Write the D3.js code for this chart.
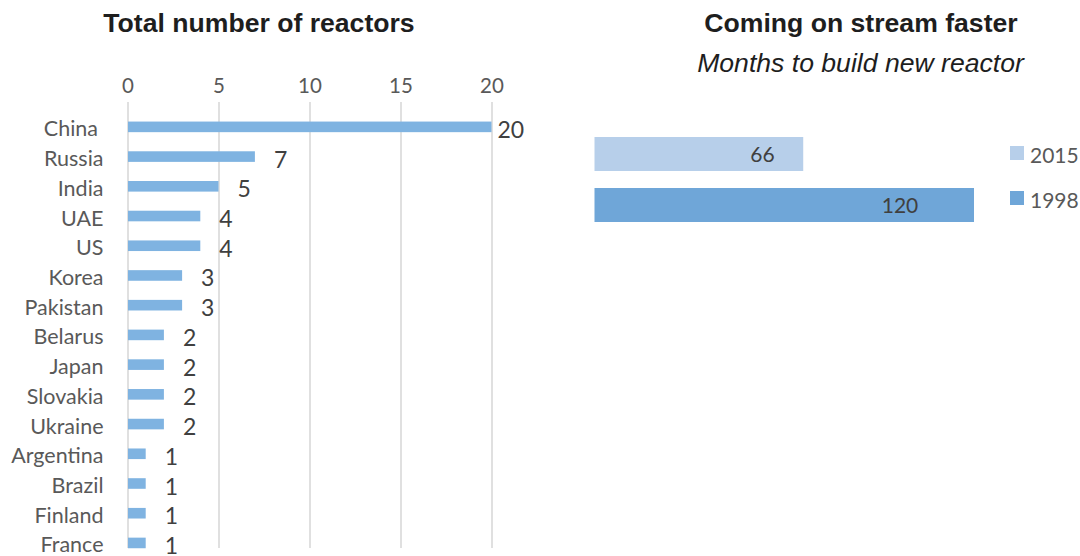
<!DOCTYPE html>
<html>
<head>
<meta charset="utf-8">
<script src="https://cdn.jsdelivr.net/npm/d3@7"></script>
<style>
  html, body { margin: 0; padding: 0; background: #ffffff; }
  svg { display: block; }
</style>
</head>
<body>
<svg id="chart" width="1080" height="556"></svg>
<script>
// Reactors under construction, by country
const countries = ["China", "Russia", "India", "UAE", "US", "Korea", "Pakistan", "Belarus",
                   "Japan", "Slovakia", "Ukraine", "Argentina", "Brazil", "Finland", "France"];
const reactorCounts = [20, 7, 5, 4, 4, 3, 3, 2, 2, 2, 2, 1, 1, 1, 1];
const reactorTicks = [0, 5, 10, 15, 20];

// Average build time, months
const buildYears = ["2015", "1998"];
const buildMonths = [66, 120];

const svg = d3.select("#chart");
const labelFont = "Lato, 'Open Sans', sans-serif";
const titleFont = "'Liberation Sans', Arial, sans-serif";

// ---------- Left panel: total number of reactors ----------
const left = svg.append("g");

left.append("text")
  .attr("x", 259).attr("y", 32)
  .attr("text-anchor", "middle")
  .attr("font-family", titleFont).attr("font-weight", "bold")
  .attr("font-size", 26.6).attr("fill", "#1e1e1e")
  .text("Total number of reactors");

const x = d3.scaleLinear().domain([0, 20]).range([127.5, 491.5]);
const y = d3.scaleBand().domain(countries).range([112, 112 + 15 * 29.72]).paddingInner(0.64).paddingOuter(0.32);

const gridTop = 102, gridBottom = 548;
const xAxis = d3.axisTop(x).tickValues(reactorTicks).tickFormat(d3.format("d"))
  .tickSizeInner(-(gridBottom - gridTop)).tickSizeOuter(0).tickPadding(9);

const ax = left.append("g").attr("transform", `translate(0,${gridTop})`).call(xAxis);
ax.select(".domain").remove();
ax.selectAll(".tick line").attr("stroke", "#d9d9d9").attr("stroke-width", 1.6);
ax.selectAll(".tick text")
  .attr("font-family", labelFont).attr("font-size", 20.5).attr("fill", "#595959");

const rows = countries.map((c, i) => ({ country: c, value: reactorCounts[i] }));

left.append("g").selectAll("rect").data(rows).join("rect")
  .attr("x", x(0) + 0.5)
  .attr("y", d => y(d.country) + y.bandwidth() / 2 - 5.3)
  .attr("width", d => x(d.value) - x(0) - 0.5)
  .attr("height", 10.6)
  .attr("fill", "#7fb3e1");

// category labels
left.append("g").selectAll("text").data(rows).join("text")
  .attr("x", 103.5)
  .attr("y", d => y(d.country) + y.bandwidth() / 2 + 9.5)
  .attr("text-anchor", "end")
  .attr("font-family", labelFont).attr("font-size", 21.5).attr("fill", "#595959")
  .style("white-space", "pre")
  .text(d => d.country === "China" ? "China\u00a0" : d.country);

// value labels at bar ends
const labelLimit = x(20) + 6;
left.append("g").selectAll("text").data(rows).join("text")
  .attr("x", d => Math.min(x(d.value) + 19, labelLimit))
  .attr("y", d => y(d.country) + y.bandwidth() / 2 + 11)
  .attr("font-family", labelFont).attr("font-size", 23).attr("fill", "#404040")
  .text(d => d.value);

// ---------- Right panel: months to build a new reactor ----------
const right = svg.append("g");

right.append("text")
  .attr("x", 861).attr("y", 32)
  .attr("text-anchor", "middle")
  .attr("font-family", titleFont).attr("font-weight", "bold")
  .attr("font-size", 26.6).attr("fill", "#1e1e1e")
  .text("Coming on stream faster");

right.append("text")
  .attr("x", 860.5).attr("y", 72)
  .attr("text-anchor", "middle")
  .attr("font-family", titleFont).attr("font-style", "italic")
  .attr("font-size", 26.6).attr("fill", "#1e1e1e")
  .text("Months to build new reactor");

const bx = d3.scaleLinear().domain([0, 120]).range([594.5, 974]);
const by = d3.scaleBand().domain(buildYears).range([128.5, 230.5]).paddingInner(1 / 3).paddingOuter(1 / 6);
const yearColor = d3.scaleOrdinal().domain(buildYears).range(["#b7cfea", "#6fa6d8"]);

const builds = buildYears.map((yr, i) => ({ year: yr, months: buildMonths[i] }));

right.append("g").selectAll("rect").data(builds).join("rect")
  .attr("x", bx(0))
  .attr("y", d => by(d.year))
  .attr("width", d => bx(d.months) - bx(0))
  .attr("height", by.bandwidth())
  .attr("fill", d => yearColor(d.year));

right.append("g").selectAll("text").data(builds).join("text")
  .attr("x", d => bx(d.months * 0.805))
  .attr("y", d => by(d.year) + by.bandwidth() / 2 + 8)
  .attr("text-anchor", "middle")
  .attr("font-family", labelFont).attr("font-size", 21).attr("fill", "#404040")
  .text(d => d.months);

// legend
const legend = right.append("g").selectAll("g").data(buildYears).join("g")
  .attr("transform", (d, i) => `translate(1010,${146 + i * 45})`);
legend.append("rect")
  .attr("width", 14).attr("height", 14)
  .attr("fill", d => yearColor(d));
legend.append("text")
  .attr("x", 20).attr("y", 16.5)
  .attr("font-family", labelFont).attr("font-size", 21).attr("fill", "#595959")
  .text(d => d);
</script>
</body>
</html>
